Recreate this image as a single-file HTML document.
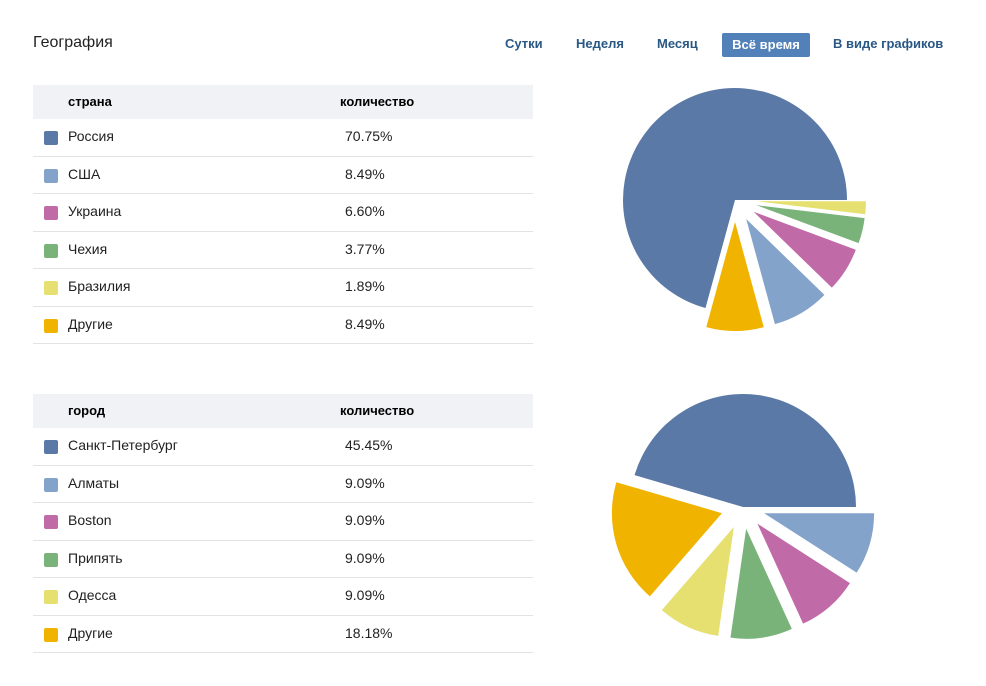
<!DOCTYPE html>
<html><head><meta charset="utf-8"><style>
body{margin:0;width:986px;height:686px;background:#fff;font-family:"Liberation Sans",sans-serif;position:relative;overflow:hidden;color:#000}
.abs{position:absolute}
.title{left:33px;top:34px;font-size:16px;color:#222}
.tab{top:36px;font-size:13px;font-weight:bold;color:#2a5885}
.tab.active{background:#5181b8;color:#fff;left:722px;top:33px;width:88px;height:24px;line-height:24px;text-align:center;border-radius:2px}
.tbl{left:33px;width:500px}
.hdr{height:34px;background:#f0f2f5;font-size:13px;font-weight:bold;position:relative}
.hdr span{position:absolute;top:9px}
.row{height:36.5px;border-bottom:1px solid #e1e3e6;position:relative;font-size:14px;color:#222}
.row .sw{position:absolute;left:11px;top:12px;width:14px;height:14px;border-radius:2px}
.row .n{position:absolute;left:35px;top:9px}
.row .v{position:absolute;left:312px;top:9px}
</style></head><body>
<div class="abs title">География</div>
<div class="abs tab" style="left:505px">Сутки</div>
<div class="abs tab" style="left:576px">Неделя</div>
<div class="abs tab" style="left:657px">Месяц</div>
<div class="abs tab active">Всё время</div>
<div class="abs tab" style="left:833px">В виде графиков</div>
<div id="t1" class="abs tbl" style="top:85px"></div>
<div id="t2" class="abs tbl" style="top:394px"></div>
<svg id="pies" class="abs" style="left:0;top:0" width="986" height="686"></svg>
<script>
const colors=["#5a79a6","#84a3cb","#c06aa8","#7ab37a","#e5e06f","#f0b400"];
const countries=["Россия","США","Украина","Чехия","Бразилия","Другие"];
const countryValues=[70.75,8.49,6.60,3.77,1.89,8.49];
const countryOrder=[0,5,1,2,3,4];
const cities=["Санкт-Петербург","Алматы","Boston","Припять","Одесса","Другие"];
const cityValues=[45.45,9.09,9.09,9.09,9.09,18.18];
const cityOrder=[0,5,4,3,2,1];
function table(id,head,names,vals,key){
  const t=document.getElementById(id);
  const h=document.createElement('div');h.className='hdr';
  
  
  h.innerHTML='<span style="left:35px">'+head+'</span><span style="left:307px">количество</span>';
  t.appendChild(h);
  names.forEach((n,i)=>{
    const r=document.createElement('div');r.className='row';
    
    
    r.innerHTML='<div class="sw" style="background:'+colors[i]+'"></div><div class="n">'+n+'</div><div class="v">'+vals[i].toFixed(2)+'%</div>';
    t.appendChild(r);
  });
}
table('t1','страна',countries,countryValues,'country');
table('t2','город',cities,cityValues,'city');
const svg=document.getElementById('pies');
function pie(cx,cy,r,vals,order,key){
  const total=vals.reduce((a,b)=>a+b,0);
  let a=0;
  order.forEach((i,k)=>{
    const v=vals[i];
    const span=v/total*360;
    const a0=a,a1=a+span;a=a1;
    const mid=(a0+a1)/2*Math.PI/180;
    const d=k===0?0:22;
    const rr=k===0?r:r-3;
    const vx=cx+d*Math.cos(mid), vy=cy-d*Math.sin(mid);
    const p=(ang)=>[vx+rr*Math.cos(ang*Math.PI/180),vy-rr*Math.sin(ang*Math.PI/180)];
    const s=p(a0),e=p(a1);
    const large=span>180?1:0;
    const path=document.createElementNS('http://www.w3.org/2000/svg','path');
    path.setAttribute('d',`M${vx},${vy}L${s[0]},${s[1]}A${rr},${rr} 0 ${large} 0 ${e[0]},${e[1]}Z`);
    path.setAttribute('fill',colors[i]);
    
    
    svg.appendChild(path);
  });
}
pie(735,200,112,countryValues,countryOrder,'country');
pie(743,507,113,cityValues,cityOrder,'city');
</script>
</body></html>
